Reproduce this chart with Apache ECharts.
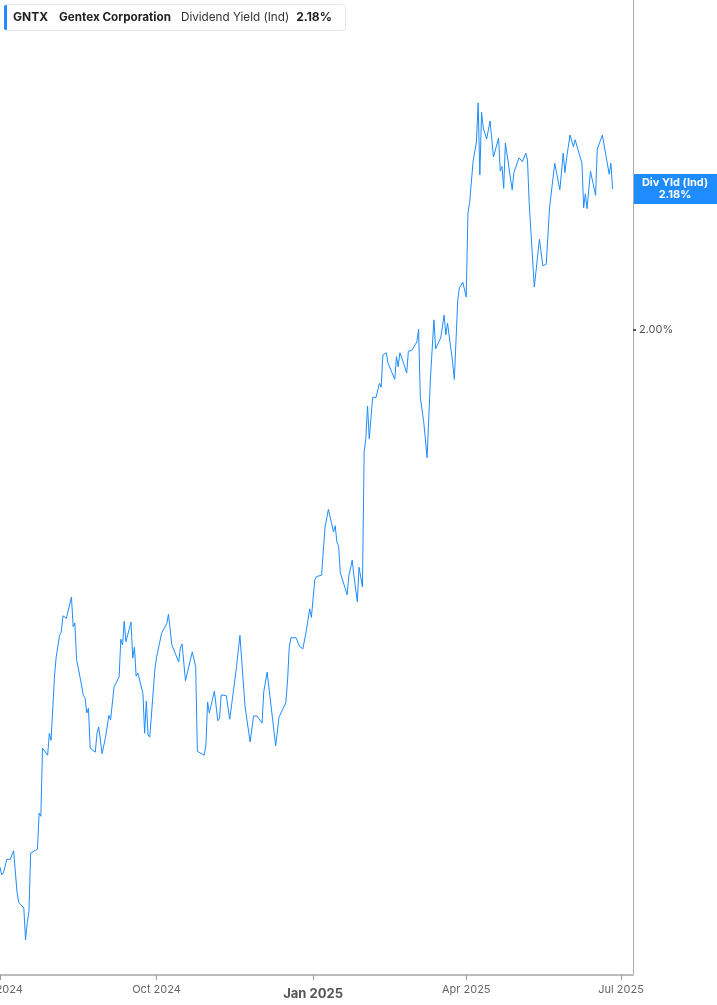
<!DOCTYPE html>
<html lang="en">
<head>
    <meta charset="UTF-8">
    <title>GNTX Dividend Yield</title>
    <script src="https://cdn.jsdelivr.net/npm/echarts@6/dist/echarts.min.js"></script>
    <style>
        html, body { margin: 0; padding: 0; background: #fff; }
    </style>
</head>
<body>
<div id="main" style="width: 717px;height: 1005px;"></div>
<script type="text/javascript">
    var ticker = 'GNTX';
    var company = 'Gentex Corporation';
    var metric = 'Dividend Yield (Ind)';
    var shortMetric = 'Div Yld (Ind)';

    var dates = [
        '2024-07-01','2024-07-02','2024-07-03','2024-07-05','2024-07-07','2024-07-09','2024-07-11','2024-07-12',
        '2024-07-15','2024-07-16','2024-07-17','2024-07-18','2024-07-19','2024-07-23','2024-07-24','2024-07-25',
        '2024-07-26','2024-07-29','2024-07-30','2024-07-31','2024-08-02','2024-08-03','2024-08-05','2024-08-06',
        '2024-08-07','2024-08-09','2024-08-12','2024-08-13','2024-08-14','2024-08-15','2024-08-17','2024-08-19',
        '2024-08-20','2024-08-21','2024-08-22','2024-08-23','2024-08-26','2024-08-27','2024-08-28','2024-08-30',
        '2024-09-01','2024-09-03','2024-09-04','2024-09-06','2024-09-09','2024-09-10','2024-09-11','2024-09-12',
        '2024-09-13','2024-09-16','2024-09-17','2024-09-18','2024-09-19','2024-09-20','2024-09-23','2024-09-24',
        '2024-09-25','2024-09-26','2024-09-27','2024-09-30','2024-10-01','2024-10-02','2024-10-04','2024-10-07',
        '2024-10-08','2024-10-10','2024-10-14','2024-10-15','2024-10-16','2024-10-18','2024-10-22','2024-10-24',
        '2024-10-25','2024-10-29','2024-10-30','2024-10-31','2024-11-01','2024-11-04','2024-11-06','2024-11-07',
        '2024-11-08','2024-11-11','2024-11-13','2024-11-15','2024-11-17','2024-11-19','2024-11-22','2024-11-25',
        '2024-11-27','2024-11-29','2024-12-02','2024-12-03','2024-12-04','2024-12-05','2024-12-06','2024-12-10',
        '2024-12-12','2024-12-13','2024-12-16','2024-12-17','2024-12-18','2024-12-19','2024-12-22','2024-12-24',
        '2024-12-26','2024-12-28','2024-12-30','2024-12-31','2025-01-02','2025-01-03','2025-01-06','2025-01-08',
        '2025-01-10','2025-01-13','2025-01-14','2025-01-15','2025-01-16','2025-01-17','2025-01-21','2025-01-22',
        '2025-01-23','2025-01-24','2025-01-25','2025-01-27','2025-01-28','2025-01-29','2025-01-30','2025-01-31',
        '2025-02-01','2025-02-02','2025-02-03','2025-02-05','2025-02-07','2025-02-09','2025-02-10','2025-02-11',
        '2025-02-13','2025-02-14','2025-02-18','2025-02-19','2025-02-20','2025-02-21','2025-02-23','2025-02-25',
        '2025-02-26','2025-02-28','2025-03-03','2025-03-04','2025-03-05','2025-03-07','2025-03-09','2025-03-11',
        '2025-03-13','2025-03-14','2025-03-17','2025-03-19','2025-03-20','2025-03-21','2025-03-24','2025-03-25',
        '2025-03-27','2025-03-28','2025-03-30','2025-04-01','2025-04-02','2025-04-03','2025-04-05','2025-04-07',
        '2025-04-08','2025-04-09','2025-04-10','2025-04-11','2025-04-13','2025-04-15','2025-04-17','2025-04-20',
        '2025-04-21','2025-04-22','2025-04-23','2025-04-24','2025-04-28','2025-04-29','2025-05-02','2025-05-04',
        '2025-05-06','2025-05-07','2025-05-08','2025-05-09','2025-05-11','2025-05-14','2025-05-15','2025-05-16',
        '2025-05-18','2025-05-20','2025-05-23','2025-05-26','2025-05-28','2025-05-29','2025-05-30','2025-06-01',
        '2025-06-03','2025-06-04','2025-06-05','2025-06-08','2025-06-09','2025-06-10','2025-06-11','2025-06-13',
        '2025-06-16','2025-06-17','2025-06-20','2025-06-22','2025-06-24','2025-06-25','2025-06-26'
    ];

    var yields = [
        1.314,1.304,1.307,1.324,1.324,1.335,1.282,1.269,
        1.262,1.221,1.243,1.257,1.332,1.337,1.383,1.379,
        1.466,1.457,1.485,1.476,1.557,1.582,1.610,1.614,
        1.635,1.632,1.659,1.621,1.626,1.579,1.557,1.533,
        1.530,1.511,1.517,1.466,1.461,1.485,1.493,1.459,
        1.480,1.508,1.502,1.544,1.557,1.605,1.598,1.628,
        1.602,1.627,1.581,1.595,1.558,1.562,1.536,1.485,
        1.526,1.483,1.480,1.566,1.582,1.582,1.613,1.625,
        1.637,1.598,1.576,1.594,1.599,1.552,1.589,1.570,
        1.462,1.457,1.470,1.525,1.511,1.539,1.501,1.504,
        1.534,1.533,1.503,1.536,1.570,1.610,1.519,1.474,
        1.507,1.507,1.498,1.538,1.540,1.563,1.562,1.469,
        1.506,1.507,1.524,1.553,1.595,1.607,1.607,1.596,
        1.593,1.616,1.644,1.633,1.681,1.685,1.687,1.748,
        1.771,1.742,1.750,1.729,1.724,1.690,1.662,1.686,
        1.688,1.706,1.686,1.653,1.697,1.699,1.672,1.844,
        1.862,1.903,1.861,1.914,1.914,1.932,1.927,1.968,
        1.971,1.958,1.937,1.966,1.953,1.971,1.959,1.945,
        1.973,1.974,1.985,2.001,1.914,1.883,1.837,1.940,
        2.013,1.976,1.990,2.019,1.994,2.009,1.959,1.937,
        2.038,2.054,2.061,2.042,2.149,2.163,2.215,2.240,
        2.290,2.198,2.278,2.258,2.244,2.267,2.221,2.245,
        2.203,2.209,2.181,2.239,2.179,2.201,2.220,2.215,
        2.226,2.217,2.162,2.160,2.055,2.116,2.117,2.082,
        2.084,2.157,2.213,2.179,2.226,2.201,2.220,2.249,
        2.234,2.243,2.241,2.213,2.156,2.174,2.155,2.203,
        2.172,2.231,2.249,2.224,2.199,2.213,2.180
    ];

    var yTicks = [2.00];
    var xTicks = ['2024-07-01', '2024-10-01', '2025-01-01', '2025-04-01', '2025-07-01'];
    var monthNames = ['Jan','Feb','Mar','Apr','May','Jun','Jul','Aug','Sep','Oct','Nov','Dec'];

    function toTime(s) {
        var p = s.split('-');
        return new Date(+p[0], +p[1] - 1, +p[2]).getTime();
    }

    var seriesData = [];
    for (var i = 0; i < dates.length; i++) {
        seriesData.push([toTime(dates[i]), yields[i]]);
    }
    var xTickValues = xTicks.map(toTime);
    var lastValue = yields[yields.length - 1];
    var xMax = toTime('2025-07-08');

    var blue = '#1e8cff';
    var font = 'Inter, "Noto Sans", sans-serif';

    var myChart = echarts.init(document.getElementById('main'));

    // dates are kept as timestamps on a value axis so the quarter ticks can be placed exactly
    var option = {
        backgroundColor: '#fff',
        animation: false,
        grid: { left: 0, right: 84, top: 0, bottom: 30, outerBoundsMode: 'none', containLabel: false },
        xAxis: {
            type: 'value',
            min: toTime('2024-07-01'),
            max: xMax,
            splitLine: { show: false },
            axisLine: { show: true, lineStyle: { color: '#bcbcbc', width: 2 } },
            axisTick: {
                show: true, length: 5, customValues: xTickValues,
                lineStyle: { color: '#999', width: 1 }
            },
            axisLabel: {
                customValues: xTickValues,
                showMinLabel: true,
                showMaxLabel: true,
                hideOverlap: false,
                margin: 9,
                color: '#666',
                fontFamily: font,
                fontSize: 11,
                formatter: function (v) {
                    var d = new Date(v);
                    var s = monthNames[d.getMonth()] + ' ' + d.getFullYear();
                    return d.getMonth() === 0 ? '{b|' + s + '}' : s;
                },
                rich: {
                    b: { fontWeight: 'bold', fontSize: 13, color: '#555', fontFamily: font, padding: [4, 0, 0, 0] }
                }
            }
        },
        yAxis: {
            type: 'value',
            position: 'right',
            min: 1.1763,
            max: 2.4215,
            splitLine: { show: false },
            axisLine: { show: true, lineStyle: { color: '#a8a8a8', width: 1 } },
            axisTick: {
                show: true, inside: false, length: 3, customValues: yTicks,
                lineStyle: { color: '#555', width: 2 }
            },
            axisLabel: {
                customValues: yTicks,
                margin: 6,
                color: '#555',
                fontFamily: font,
                fontSize: 11,
                formatter: function (v) { return v.toFixed(2) + '%'; }
            }
        },
        series: [{
            name: metric,
            type: 'line',
            data: seriesData,
            showSymbol: false,
            symbol: 'none',
            lineStyle: { color: blue, width: 1 },
            itemStyle: { color: blue }
        }]
    };
    myChart.setOption(option);

    // legend box and last value tag on the right axis
    var tagY = myChart.convertToPixel({ yAxisIndex: 0 }, lastValue);
    var axisX = myChart.convertToPixel({ xAxisIndex: 0 }, xMax);
    myChart.setOption({
        graphic: [
            {
                type: 'rect',
                shape: { x: 4.5, y: 4.5, width: 341, height: 26, r: 3 },
                style: { fill: '#fff', stroke: '#e6e6e6', lineWidth: 1 }
            },
            {
                type: 'rect',
                shape: { x: 4, y: 5, width: 3, height: 25, r: [2, 0, 0, 2] },
                style: { fill: blue }
            },
            {
                type: 'text',
                x: 13, y: 17.5,
                style: {
                    text: '{b|' + ticker + '}{b2|' + company + '}{n|' + metric + '}{v|' + lastValue.toFixed(2) + '%}',
                    verticalAlign: 'middle',
                    rich: {
                        b: { fontFamily: font, fontSize: 12, fontWeight: 'bold', fill: '#222', padding: [0, 11, 0, 0] },
                        b2: { fontFamily: font, fontSize: 11.7, fontWeight: 'bold', fill: '#222', padding: [0, 10, 0, 0] },
                        n: { fontFamily: font, fontSize: 11.7, fill: '#333', padding: [0, 7, 0, 0] },
                        v: { fontFamily: font, fontSize: 12, fontWeight: 'bold', fill: '#222' }
                    }
                }
            },
            {
                type: 'rect',
                shape: { x: axisX + 1, y: tagY - 15, width: 717 - axisX - 1, height: 30 },
                style: { fill: blue }
            },
            {
                type: 'text',
                x: axisX + 42, y: tagY,
                style: {
                    text: shortMetric + '\n' + lastValue.toFixed(2) + '%',
                    align: 'center',
                    verticalAlign: 'middle',
                    fontFamily: font,
                    fontSize: 11,
                    fontWeight: 'bold',
                    lineHeight: 12,
                    fill: '#fff'
                }
            }
        ]
    });
</script>
</body>
</html>
